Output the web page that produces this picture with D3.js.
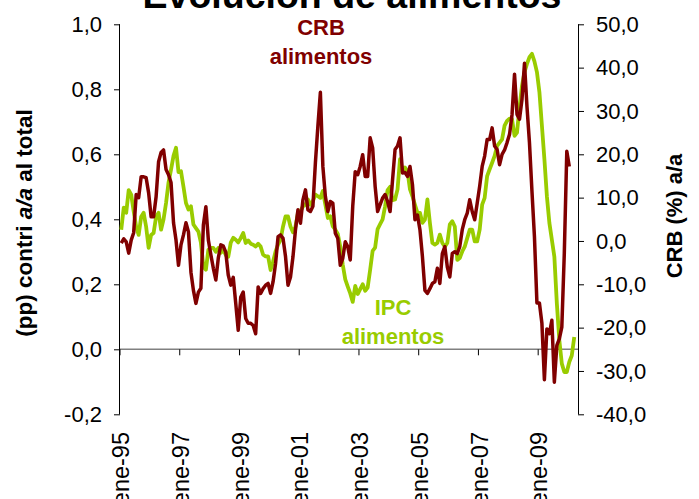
<!DOCTYPE html>
<html><head><meta charset="utf-8">
<script src="https://cdn.jsdelivr.net/npm/d3@7"></script>
<style>body{margin:0;background:#fff}svg{display:block}text{font-family:"Liberation Sans",Arial,sans-serif}</style>
</head><body>
<svg id="c" width="699" height="499"></svg>
<script>
const monthNames = ["ene","feb","mar","abr","may","jun","jul","ago","sep","oct","nov","dic"];
const years = ["95","96","97","98","99","00","01","02","03","04","05","06","07","08","09","10"];
const nCategories = 184;
const leftTicks = [-0.2,0,0.2,0.4,0.6,0.8,1.0];
const rightTicks = [-40,-30,-20,-10,0,10,20,30,40,50];
const xTickYears = ["95","97","99","01","03","05","07","09"];

// IPC alimentos: contribución (pp) a la tasa a/a del total, eje izquierdo
const ipc = [0.368,0.436,0.42,0.49,0.476,0.424,0.377,0.352,0.408,0.42,0.377,0.312,0.352,0.358,0.408,0.42,0.368,0.40,0.45,0.513,0.553,0.595,0.62,0.545,0.548,0.50,0.45,0.43,0.44,0.384,0.373,0.362,0.328,0.254,0.245,0.306,0.312,0.312,0.30,0.312,0.297,0.306,0.29,0.285,0.328,0.343,0.337,
0.329,0.342,0.358,0.327,0.335,0.325,0.322,0.316,0.325,0.316,0.291,0.286,0.286,0.244,0.27,0.301,0.322,0.337,0.378,0.409,0.409,0.378,0.36,0.378,0.42,0.425,0.44,0.445,0.461,0.445,0.456,0.476,0.471,0.466,0.487,0.445,0.404,0.409,0.378,0.368,0.355,0.316,0.26,0.215,0.193,0.172,0.146,0.195,0.17,0.185,0.20,0.18,0.19,0.245,0.303,0.313,0.37,0.385,0.40,0.44,0.49,0.50,0.459,0.461,0.492,0.585,0.548,0.559,0.548,0.492,0.471,0.445,0.42,0.42,0.389,0.399,0.461,0.389,0.327,0.322,0.327,0.353,0.327,0.316,0.327,0.384,0.394,0.378,0.275,0.281,0.301,0.316,0.342,0.368,0.368,0.332,0.332,0.368,0.445,0.466,0.533,0.554,0.574,0.595,0.626,0.636,0.646,0.688,0.703,0.71,0.708,0.657,0.667,0.745,0.811,0.853,0.878,0.899,0.909,0.886,0.853,0.791,0.688,0.585,0.471,0.389,0.337,0.285,0.141,0.028,-0.044,-0.07,-0.07,-0.039,-0.019,0.038];

// CRB alimentos: variación a/a (%), eje derecho
const crb = [-0.5,0.5,-0.2,-2.8,0.2,1.9,10.7,10.0,14.8,14.8,14.6,11.1,5.6,5.6,10.2,18.3,20.4,21.0,16.5,15.3,13.5,4.2,0.2,-5.6,-0.9,1.4,4.2,2.1,-7.2,-11.4,-14.4,-11.8,-10.9,3.7,7.9,0.2,-3.2,-6.3,-9.0,-3.9,-0.9,-1.2,-2.6,-7.9,-10.2,-8.4,-14.4,-20.6,-13.0,-11.8,-17.9,-19.0,-19.0,-19.5,-21.4,-10.6,-12.1,-11.0,-10.2,-9.8,-12.1,-9.4,-5.2,1.0,1.4,0.6,-3.6,-10.2,-8.3,-3.6,2.6,7.2,4.1,9.5,11.8,7.2,6.8,8.0,18.0,26.5,34.3,17.2,10.3,6.8,9.1,8.7,1.8,0.6,-5.6,-4.0,-0.2,-1.3,-4.4,8.0,16.0,15.3,17.2,19.9,14.9,14.9,23.8,21.5,12.6,6.8,8.4,9.9,10.7,9.1,6.8,14.1,21.1,21.9,23.8,15.7,15.8,14.9,17.2,13.0,4.9,6.0,2.6,-3.6,-11.4,-12.1,-11.0,-9.8,-9.4,-6.3,-9.8,-2.9,-1.3,-6.0,-8.3,-2.9,-2.5,-2.9,-1.3,2.6,4.9,6.4,9.5,6.8,4.9,8.7,12.6,17.2,19.6,23.4,23.4,26.1,21.9,21.1,17.6,20.0,21.0,22.7,24.6,29.2,38.5,29.2,28.1,32.7,41.0,31.0,22.7,11.5,1.0,-14.3,-14.3,-19.0,-32.0,-20.3,-21.4,-18.3,-32.6,-24.1,-22.6,-19.9,-2.8,20.7,17.2];

const categories = [];
for (const y of years) for (const m of monthNames) { if (categories.length < nCategories) categories.push(m + "-" + y); }

const svg = d3.select("#c");
const L = 120, R = 578, T = 24.3, B = 414.3;
const x = d3.scaleBand().domain(categories).range([L, R]);
const yL = d3.scaleLinear().domain([-0.2, 1.0]).range([B, T]);
const yR = d3.scaleLinear().domain([-40, 50]).range([B, T]);
const fmt1 = v => d3.format(".1f")(v).replace(".", ",").replace("−","-");
const cx = d => x(d) + x.bandwidth() / 2;

// zero line (category axis)
svg.append("line").attr("x1", L).attr("x2", R).attr("y1", yL(0)).attr("y2", yL(0))
  .attr("stroke", "#808080").attr("stroke-width", 1.5);
const xTickCats = xTickYears.map(y => "ene-" + y);
svg.selectAll(".xt").data(xTickCats).join("line")
  .attr("x1", d => x(d)).attr("x2", d => x(d))
  .attr("y1", yL(0)).attr("y2", yL(0) + 6).attr("stroke", "#000").attr("stroke-width", 1);
svg.selectAll(".xl").data(xTickCats).join("text")
  .attr("transform", d => `translate(${cx(d) + 8},432) rotate(-90)`)
  .attr("text-anchor", "end").attr("font-size", 23.5).attr("fill", "#000").text(d => d);

// left axis
const gl = svg.append("g").attr("transform", `translate(${L},0)`)
  .call(d3.axisLeft(yL).tickValues(leftTicks).tickFormat(fmt1).tickSize(6).tickPadding(12));
gl.select(".domain").attr("stroke", "#000").attr("d", `M-0.5,${T}V${B}`);
gl.selectAll("text").attr("font-size", 22).attr("font-family", "Liberation Sans, Arial").attr("fill", "#000");
// right axis
const gr = svg.append("g").attr("transform", `translate(${R},0)`)
  .call(d3.axisRight(yR).tickValues(rightTicks).tickFormat(fmt1).tickSize(6).tickPadding(12));
gr.select(".domain").attr("stroke", "#000").attr("d", `M0.5,${T}V${B}`);
gr.selectAll("text").attr("font-size", 22).attr("font-family", "Liberation Sans, Arial").attr("fill", "#000");

// lines
const lineL = d3.line().x((d, i) => cx(categories[i])).y(d => yL(d));
const lineR = d3.line().x((d, i) => cx(categories[i])).y(d => yR(d));
svg.append("path").datum(ipc).attr("d", lineL).attr("fill", "none")
  .attr("stroke", "#99CC00").attr("stroke-width", 3.8).attr("stroke-linejoin", "round");
svg.append("path").datum(crb).attr("d", lineR).attr("fill", "none")
  .attr("stroke", "#800000").attr("stroke-width", 3.5).attr("stroke-linejoin", "round");

// title
svg.append("text").attr("x", 352).attr("y", 8).attr("text-anchor", "middle")
  .attr("font-size", 37.5).attr("font-weight", "bold").text("Evolución de alimentos");

// series labels
const lab = (t, xx, yy, c) => svg.append("text").attr("x", xx).attr("y", yy).attr("text-anchor", "middle")
  .attr("font-size", 22).attr("font-weight", "bold").attr("fill", c).text(t);
lab("CRB", 321, 35, "#800000"); lab("alimentos", 321, 64, "#800000");
lab("IPC", 393, 315, "#99CC00"); lab("alimentos", 393, 344, "#99CC00");

// axis titles
const lt = svg.append("text").attr("transform", "translate(32,223) rotate(-90)").attr("text-anchor", "middle")
  .attr("font-size", 22.5).attr("font-weight", "bold");
lt.append("tspan").text("(pp) contri ");
lt.append("tspan").attr("font-style", "italic").text("a/a");
lt.append("tspan").text(" al total");
svg.append("text").attr("transform", "translate(682,216) rotate(-90)").attr("text-anchor", "middle")
  .attr("font-size", 22).attr("font-weight", "bold").text("CRB (%) a/a");
</script>
</body></html>
